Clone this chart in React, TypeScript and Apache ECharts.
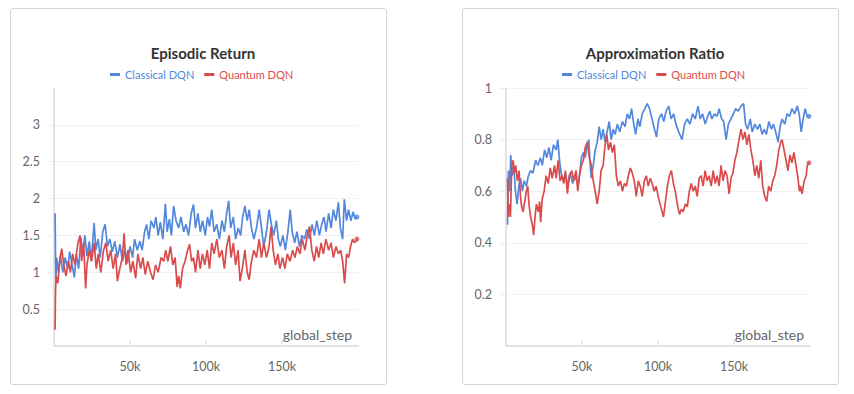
import React, { useEffect, useRef } from "react";
import * as echarts from "echarts";

const BLUE = "#5387DD";
const RED = "#DA4C4C";

const chartTitles = ["Episodic Return", "Approximation Ratio"];
const seriesNames = ["Classical DQN", "Quantum DQN"];
const xTickValues = [50000, 100000, 150000];
const returnTickValues = [0.5, 1, 1.5, 2, 2.5, 3];
const ratioTickValues = [0.2, 0.4, 0.6, 0.8, 1];

// steps in thousands
const returnClassicalSteps = [0.7, 1.2, 1.8, 2.9, 4.2, 5.8, 7.3, 9, 10.3, 11.9, 13.4, 14.7, 16.2, 17.7, 19, 20.3, 21.7, 23.2, 24.5, 26.4, 27.5, 29, 30.4, 32.1, 33.6, 35.2, 36.7, 38.4, 40, 41.7, 43.4, 45, 46.7, 48.2, 50, 51.7, 53, 54.8, 56.5, 58, 59.6, 60.9, 62.4, 63.9, 65.7, 67, 68.5, 70, 71.6, 73.3, 74.4, 75.9, 77.2, 78.7, 80.3, 82, 83.5, 85.3, 86.8, 88.5, 90.3, 91.8, 93.1, 94.7, 96.2, 97.7, 99.5, 101, 102.3, 103.8, 105.3, 107.1, 108.8, 110.5, 112.1, 113.6, 114.9, 116.2, 118, 119.5, 121.2, 122.8, 124.1, 125.6, 127.1, 128.4, 129.9, 131.5, 133.2, 135, 136.5, 138, 139.8, 141.5, 143, 144.5, 146.3, 147.6, 148.9, 150.6, 152.2, 153.9, 155.4, 156.7, 158.3, 159.8, 161.5, 163.1, 164.8, 166.3, 168.1, 169.8, 171.3, 172.9, 174.6, 176.1, 177.7, 179, 180.7, 182.3, 183.8, 185.5, 187.1, 188.4, 189.9, 191, 192.5, 193.8, 195.3, 196.8, 198.2, 199.3];
const returnClassical = [1.8, 0.88, 1.2, 1.0, 1.23, 1.0, 1.2, 1.05, 1.28, 1.1, 0.93, 1.25, 1.05, 1.47, 1.25, 1.5, 1.22, 1.42, 1.15, 1.67, 1.3, 1.45, 1.2, 1.55, 1.65, 1.35, 1.45, 1.28, 1.42, 1.2, 1.38, 1.15, 1.3, 1.12, 1.35, 1.2, 1.45, 1.3, 1.42, 1.3, 1.55, 1.65, 1.45, 1.7, 1.6, 1.75, 1.5, 1.68, 1.45, 1.93, 1.55, 1.72, 1.5, 1.9, 1.7, 1.6, 1.75, 1.55, 1.65, 1.5, 1.8, 1.92, 1.6, 1.8, 1.55, 1.7, 1.5, 1.75, 1.62, 1.85, 1.55, 1.65, 1.45, 1.7, 1.55, 1.8, 1.97, 1.6, 1.75, 1.45, 1.6, 1.5, 1.75, 1.9, 1.7, 1.85, 1.6, 1.45, 1.6, 1.85, 1.6, 1.35, 1.55, 1.85, 1.65, 1.5, 1.7, 1.45, 1.35, 1.5, 1.3, 1.55, 1.85, 1.55, 1.4, 1.55, 1.35, 1.5, 1.45, 1.58, 1.45, 1.65, 1.5, 1.7, 1.5, 1.65, 1.75, 1.55, 1.8, 1.6, 1.85, 1.7, 1.95, 1.6, 1.45, 1.99, 1.7, 1.85, 1.7, 1.82, 1.72, 1.75];

const returnQuantumSteps = [0.7, 1.0, 1.4, 2.5, 4, 5.1, 6.4, 7.9, 9.5, 10.8, 12.3, 13.8, 15.6, 17.1, 18.2, 19.5, 20.8, 21.7, 23.2, 24.7, 26.4, 27.8, 29.1, 30.8, 32.6, 34.1, 35.6, 37.3, 38.9, 40.5, 41.7, 43.3, 45, 46.1, 47.4, 48.7, 50.4, 51.9, 53.7, 55.2, 57, 58.5, 60, 61.7, 63.5, 65.2, 66.8, 68.5, 70.5, 72.2, 73.5, 74.9, 76.6, 78.2, 79.7, 81, 82, 83.1, 84.6, 86.2, 87.9, 89.2, 90.5, 91.8, 93.1, 94.7, 96.2, 97.7, 99.2, 100.8, 102.3, 103.8, 105.3, 107.1, 108.8, 110.5, 112.1, 113.6, 115.2, 116.5, 118, 119.5, 121.1, 122.4, 123.9, 125.6, 127.1, 128.4, 129.9, 131.5, 133.2, 135, 136.5, 138, 139.8, 141.5, 142.8, 144.2, 145.7, 147.3, 148.6, 150.4, 151.9, 153.5, 155.2, 157, 158.5, 160.1, 161.8, 163.3, 165.1, 166.6, 168.1, 169.6, 171.2, 172.7, 174.2, 175.7, 177.2, 178.9, 180.7, 182.3, 183.8, 185.5, 187.1, 188.6, 189.9, 191.2, 192.5, 193.8, 195.1, 196.4, 197.7, 199.3];
const returnQuantum = [0.22, 0.75, 0.95, 0.85, 1.2, 1.32, 1.1, 0.95, 1.15, 1.0, 1.25, 1.1, 1.38, 1.5, 1.15, 1.4, 0.78, 1.1, 1.3, 1.15, 1.4, 1.05, 1.25, 1.0, 1.3, 1.4, 1.15, 1.3, 1.05, 1.25, 0.88, 1.05, 1.2, 1.53, 1.1, 1.3, 1.0, 1.15, 0.92, 1.25, 1.05, 1.2, 0.97, 1.15, 1.0, 0.9, 1.1, 1.0, 1.2, 1.15, 1.3, 1.15, 1.35, 1.1, 1.2, 0.8, 0.95, 0.78, 1.05, 1.15, 1.3, 1.38, 1.15, 1.2, 1.0, 1.3, 1.05, 1.25, 1.1, 1.3, 1.05, 1.4, 1.25, 1.45, 1.2, 1.3, 1.05, 1.35, 1.5, 1.2, 1.4, 1.1, 1.3, 0.88, 1.05, 1.3, 1.0, 0.9, 1.15, 1.3, 1.2, 1.45, 1.2, 1.4, 1.2, 1.35, 1.62, 1.3, 1.1, 1.25, 1.05, 1.2, 1.05, 1.25, 1.15, 1.3, 1.2, 1.35, 1.25, 1.45, 1.3, 1.5, 1.62, 1.3, 1.15, 1.35, 1.2, 1.4, 1.25, 1.45, 1.3, 1.4, 1.2, 1.35, 1.25, 1.3, 1.15, 0.85, 1.25, 1.2, 1.35, 1.45, 1.4, 1.45];

const ratioClassicalSteps = [1, 1.6, 2.5, 3.1, 4, 5.1, 6.2, 7.3, 8.4, 9.5, 10.8, 11.9, 13.4, 14.7, 16.2, 17.7, 19.5, 21, 22.6, 23.9, 25.4, 26.9, 28.2, 29.7, 31.2, 33, 34.1, 35.2, 36.3, 37.8, 39.1, 40.6, 42.1, 43.9, 45.2, 46.5, 47.8, 48.7, 49.6, 50.9, 52.1, 53.5, 54.4, 55.2, 56.1, 57.4, 58.7, 60, 61.3, 62.6, 63.9, 65.2, 66.5, 67.9, 69.2, 70.5, 71.8, 73.3, 74.8, 76.6, 78.3, 79.8, 81.3, 82.6, 83.8, 85.3, 86.8, 88.1, 89.6, 91.4, 92.9, 94.4, 96.1, 97.7, 99, 100.5, 102.3, 103.8, 105.3, 107.1, 108.6, 110.3, 111.8, 113.6, 115.8, 117.5, 119.3, 121, 122.8, 124.5, 126.3, 127.8, 129.3, 131.1, 132.6, 134.1, 135.4, 137.2, 138.9, 140.2, 141.9, 143.2, 144.8, 146.3, 148, 149.6, 151.1, 152.8, 154.6, 156.3, 157.6, 158.9, 160.7, 162, 163.7, 165.5, 167, 168.5, 169.8, 171.3, 172.9, 174.6, 175.9, 177.4, 179, 180.3, 181.6, 183.4, 184.9, 186.6, 188.1, 189.9, 191.6, 192.9, 194.2, 195.5, 196.8, 198.2, 199.3];
const ratioClassical = [0.47, 0.68, 0.6, 0.74, 0.66, 0.7, 0.6, 0.55, 0.62, 0.65, 0.6, 0.64, 0.62, 0.66, 0.68, 0.67, 0.72, 0.7, 0.73, 0.7, 0.76, 0.73, 0.77, 0.72, 0.78, 0.76, 0.8, 0.72, 0.67, 0.64, 0.67, 0.62, 0.67, 0.63, 0.66, 0.64, 0.63, 0.68, 0.73, 0.75, 0.73, 0.78, 0.8, 0.72, 0.65, 0.7, 0.76, 0.79, 0.85, 0.8, 0.84, 0.79, 0.83, 0.87, 0.8, 0.84, 0.82, 0.86, 0.83, 0.87, 0.85, 0.9, 0.88, 0.92, 0.87, 0.82, 0.88, 0.85, 0.9, 0.92, 0.94, 0.92, 0.88, 0.84, 0.81, 0.88, 0.9, 0.87, 0.91, 0.93, 0.88, 0.9, 0.86, 0.83, 0.8, 0.86, 0.88, 0.86, 0.9, 0.88, 0.93, 0.88, 0.9, 0.86, 0.89, 0.91, 0.88, 0.9, 0.89, 0.92, 0.88, 0.87, 0.8, 0.86, 0.88, 0.9, 0.92, 0.91, 0.93, 0.94, 0.86, 0.84, 0.88, 0.83, 0.86, 0.84, 0.86, 0.82, 0.84, 0.82, 0.87, 0.84, 0.86, 0.83, 0.79, 0.85, 0.88, 0.86, 0.9, 0.89, 0.92, 0.9, 0.93, 0.9, 0.83, 0.88, 0.92, 0.89, 0.89];

const ratioQuantumSteps = [1, 1.4, 2, 2.9, 3.8, 4.7, 5.5, 6.4, 7.5, 8.6, 9.5, 10.3, 11.2, 12.3, 13.4, 14.3, 15.1, 16.2, 17.3, 18.2, 19.1, 20, 21.3, 22.1, 22.8, 23.8, 25.1, 26.4, 27.8, 29.1, 30.4, 31.9, 33, 34.3, 35.6, 36.9, 38, 39.1, 40.4, 41.7, 43.3, 44.5, 46.1, 47.2, 48.3, 49.6, 50.9, 52.1, 53.5, 54.8, 56.1, 57.4, 58.7, 60, 61.3, 62.6, 63.9, 65.2, 66.3, 67.4, 68.7, 70, 71.3, 72.6, 73.9, 75.3, 76.6, 77.9, 79.2, 80.5, 81.8, 83.1, 84.4, 85.7, 87, 88.3, 89.6, 91, 92.3, 93.6, 94.9, 96.2, 97.5, 98.8, 100.1, 101.4, 102.7, 103.6, 104.9, 106.2, 107.5, 108.8, 110.1, 111.4, 112.7, 114.1, 115.4, 116.6, 118, 119.3, 120.6, 121.9, 123.2, 124.5, 125.8, 127.1, 128.4, 129.7, 131, 132.3, 133.6, 135, 136.3, 137.6, 138.9, 140.2, 141.5, 142.8, 144.1, 145.4, 146.8, 148, 149.3, 150.6, 151.9, 153.3, 154.6, 155.9, 157.2, 158.5, 159.8, 161.1, 162.4, 163.7, 165, 166.3, 167.6, 168.9, 170.2, 171.5, 172.8, 174.2, 175.5, 176.8, 178.1, 179.5, 180.7, 181.6, 182.9, 184.2, 185.5, 186.8, 188.1, 189.4, 190.8, 192.1, 193, 193.8, 194.7, 196.2, 197.5, 198.2, 199.3];
const ratioQuantum = [0.65, 0.5, 0.55, 0.5, 0.7, 0.72, 0.67, 0.7, 0.64, 0.68, 0.58, 0.54, 0.52, 0.56, 0.6, 0.62, 0.55, 0.5, 0.47, 0.43, 0.5, 0.55, 0.52, 0.56, 0.48, 0.57, 0.6, 0.66, 0.63, 0.69, 0.65, 0.7, 0.65, 0.72, 0.64, 0.66, 0.63, 0.68, 0.59, 0.66, 0.68, 0.64, 0.68, 0.6, 0.66, 0.7, 0.72, 0.77, 0.79, 0.73, 0.7, 0.64, 0.6, 0.55, 0.6, 0.68, 0.7, 0.78, 0.82, 0.76, 0.79, 0.75, 0.78, 0.66, 0.62, 0.64, 0.6, 0.63, 0.62, 0.66, 0.69, 0.67, 0.64, 0.58, 0.64, 0.62, 0.58, 0.64, 0.66, 0.62, 0.65, 0.63, 0.6, 0.62, 0.58, 0.55, 0.52, 0.5, 0.56, 0.62, 0.66, 0.68, 0.63, 0.6, 0.55, 0.51, 0.53, 0.52, 0.55, 0.54, 0.6, 0.63, 0.6, 0.62, 0.58, 0.65, 0.66, 0.62, 0.68, 0.64, 0.66, 0.62, 0.68, 0.63, 0.66, 0.62, 0.7, 0.64, 0.68, 0.66, 0.59, 0.65, 0.67, 0.72, 0.75, 0.8, 0.84, 0.8, 0.83, 0.78, 0.82, 0.76, 0.72, 0.66, 0.7, 0.65, 0.72, 0.62, 0.58, 0.56, 0.62, 0.6, 0.64, 0.66, 0.7, 0.76, 0.79, 0.8, 0.76, 0.72, 0.68, 0.74, 0.71, 0.75, 0.7, 0.65, 0.6, 0.62, 0.59, 0.64, 0.66, 0.7, 0.71];

const FONT = "Lato, 'Noto Sans', sans-serif";

function pairs(steps: number[], vals: number[]) {
  const n = Math.min(steps.length, vals.length);
  const out: number[][] = [];
  for (let i = 0; i < n; i++) out.push([steps[i] * 1000, vals[i]]);
  return out;
}

function buildOption() {
  const grids = [
    { left: 54, right: 854 - 358, top: 88, bottom: 48 },
    { left: 506, right: 854 - 810, top: 88, bottom: 48 },
  ];
  const titleCenters = [198, 650];
  const legendLefts = [105, 557];

  const xAxes = [0, 1].map((g) => ({
    type: "value",
    gridIndex: g,
    min: 0,
    max: 200000,
    interval: 50000,
    axisLine: { show: true, lineStyle: { color: "#e3e3e3", width: 2 } },
    axisTick: {
      show: true,
      inside: true,
      length: 6,
      customValues: xTickValues,
      lineStyle: { color: "#e3e3e3", width: 1.5 },
    },
    axisLabel: {
      customValues: xTickValues,
      color: "#666666",
      fontSize: 12.5,
      fontFamily: FONT,
      margin: 14,
      formatter: (v: number) => v / 1000 + "k",
    },
    splitLine: { show: false },
  }));

  const yCommon = {
    type: "value",
    axisLine: { show: true, lineStyle: { color: "#e3e3e3", width: 2 } },
    axisLabel: { color: "#666666", fontSize: 12.5, fontFamily: FONT, margin: 14 },
  };
  const yAxes = [
    {
      ...yCommon,
      gridIndex: 0,
      min: 0,
      max: 3.5,
      interval: 0.5,
      axisTick: { show: true, length: 6, customValues: returnTickValues, lineStyle: { color: "#eeeeee" } },
      axisLabel: { ...yCommon.axisLabel, customValues: returnTickValues },
      splitLine: {
        lineStyle: {
          color: ["#f0f0f0", "#f0f0f0", "#f0f0f0", "#f0f0f0", "#f0f0f0", "#f0f0f0", "#f0f0f0", "rgba(0,0,0,0)"],
        },
      },
    },
    {
      ...yCommon,
      gridIndex: 1,
      min: 0,
      max: 1,
      interval: 0.2,
      axisTick: { show: true, length: 6, customValues: ratioTickValues, lineStyle: { color: "#eeeeee" } },
      axisLabel: { ...yCommon.axisLabel, customValues: ratioTickValues },
      splitLine: { lineStyle: { color: "#f0f0f0" } },
    },
  ];

  const lineSeries = (name: string, color: string, g: number, data: number[][]) => ({
    type: "line",
    name,
    xAxisIndex: g,
    yAxisIndex: g,
    data,
    showSymbol: false,
    symbol: "none",
    lineStyle: { color, width: 1.7 },
    itemStyle: { color },
    z: name === seriesNames[0] ? 2 : 3,
  });
  const endDot = (color: string, g: number, data: number[][]) => ({
    type: "scatter",
    xAxisIndex: g,
    yAxisIndex: g,
    data: data.slice(-1),
    symbolSize: 5,
    itemStyle: { color },
    z: 4,
    silent: true,
  });

  const rc = pairs(returnClassicalSteps, returnClassical);
  const rq = pairs(returnQuantumSteps, returnQuantum);
  const ac = pairs(ratioClassicalSteps, ratioClassical);
  const aq = pairs(ratioQuantumSteps, ratioQuantum);

  return {
    animation: false,
    textStyle: { fontFamily: FONT },
    title: chartTitles.map((t, i) => ({
      text: t,
      left: titleCenters[i],
      top: 40,
      textAlign: "center",
      textStyle: { fontSize: 15, fontWeight: "bold", color: "#333333", fontFamily: FONT },
    })),
    legend: [0, 1].map((i) => ({
      left: legendLefts[i],
      top: 64,
      icon: "rect",
      itemWidth: 10,
      itemHeight: 3,
      itemGap: 10,
      textStyle: { fontSize: 11, fontFamily: FONT },
      selectedMode: false,
      data: [
        { name: seriesNames[0], textStyle: { color: BLUE } },
        { name: seriesNames[1], textStyle: { color: RED } },
      ],
    })),
    grid: grids,
    xAxis: xAxes,
    yAxis: yAxes,
    graphic: [
      {
        type: "text",
        right: 854 - 352,
        top: 327,
        style: { text: "global_step", fill: "#666666", fontSize: 14, fontFamily: FONT },
      },
      {
        type: "text",
        right: 854 - 804,
        top: 327,
        style: { text: "global_step", fill: "#666666", fontSize: 14, fontFamily: FONT },
      },
    ],
    series: [
      lineSeries(seriesNames[0], BLUE, 0, rc),
      lineSeries(seriesNames[1], RED, 0, rq),
      endDot(BLUE, 0, rc),
      endDot(RED, 0, rq),
      lineSeries(seriesNames[0], BLUE, 1, ac),
      lineSeries(seriesNames[1], RED, 1, aq),
      endDot(BLUE, 1, ac),
      endDot(RED, 1, aq),
    ],
  };
}

export default function App() {
  const ref = useRef<HTMLDivElement>(null);
  useEffect(() => {
    if (!ref.current) return;
    const chart = echarts.init(ref.current, undefined, { renderer: "svg" });
    chart.setOption(buildOption() as any);
    return () => chart.dispose();
  }, []);

  const card: React.CSSProperties = {
    position: "absolute",
    top: 8,
    width: 377,
    height: 377,
    border: "1px solid #d4d4d4",
    borderRadius: 3,
    boxSizing: "border-box",
    background: "#fff",
  };

  return (
    <div style={{ position: "fixed", left: 0, top: 0, width: 854, height: 394, background: "#fff", overflow: "hidden" }}>
      <div style={{ ...card, left: 10 }} />
      <div style={{ ...card, left: 462 }} />
      <div ref={ref} style={{ position: "absolute", left: 0, top: 0, width: 854, height: 394 }} />
    </div>
  );
}
